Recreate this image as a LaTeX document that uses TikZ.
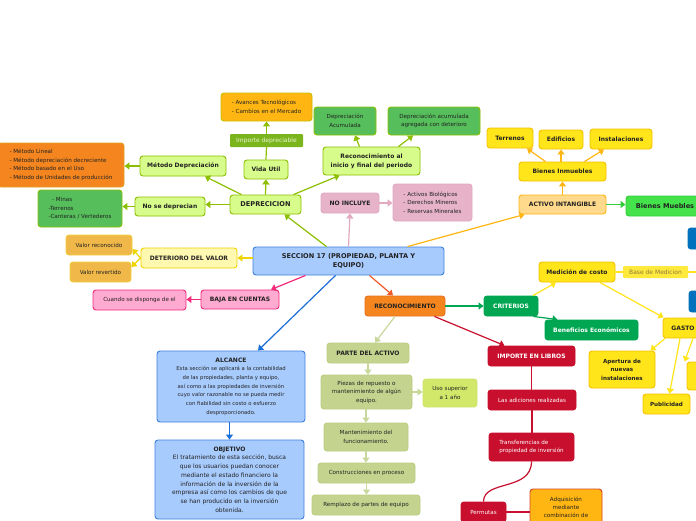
\documentclass[tikz,border=0pt]{standalone}
\usepackage{fontspec}
\setmainfont{DejaVu Sans}
\usetikzlibrary{arrows.meta}
\definecolor{secF}{HTML}{A8CBFD}\definecolor{secD}{HTML}{3D7FE0}
\definecolor{limF}{HTML}{D8FC8C}\definecolor{limD}{HTML}{8CBF00}
\definecolor{impF}{HTML}{7AB51D}\definecolor{impT}{HTML}{EAF6D2}
\definecolor{orY}{HTML}{FFB612}\definecolor{orD}{HTML}{C4C000}
\definecolor{orM}{HTML}{F5861F}\definecolor{orMD}{HTML}{E0A020}
\definecolor{grM}{HTML}{56BE5B}
\definecolor{pkF}{HTML}{E6B3C8}\definecolor{pkD}{HTML}{E2A9C1}
\definecolor{aiF}{HTML}{FFD98C}
\definecolor{yeF}{HTML}{FFE51A}\definecolor{yeD}{HTML}{F5C000}
\definecolor{bmF}{HTML}{44E34B}\definecolor{bmD}{HTML}{33CC3A}
\definecolor{deF}{HTML}{FFF8B0}\definecolor{deD}{HTML}{EED500}
\definecolor{vaF}{HTML}{F0B849}\definecolor{vaD}{HTML}{F2CF40}
\definecolor{bjF}{HTML}{FFAAD0}\definecolor{bjD}{HTML}{F22A7A}
\definecolor{rcF}{HTML}{F5861F}\definecolor{rcD}{HTML}{E8701A}\definecolor{rcL}{HTML}{F05A28}
\definecolor{crF}{HTML}{00A651}
\definecolor{ilF}{HTML}{C8102E}
\definecolor{paF}{HTML}{C4D38E}\definecolor{paD}{HTML}{BCCE82}\definecolor{paL}{HTML}{C8D89A}
\definecolor{usF}{HTML}{D2E86A}
\definecolor{blF}{HTML}{0071BC}
\definecolor{alL}{HTML}{1A6FD8}
\definecolor{bsT}{HTML}{8A7A40}
\definecolor{txt}{HTML}{222222}
\newcommand\fA{\fontsize{6.6}{8.2}\selectfont\bfseries}
\newcommand\fB{\fontsize{6}{9}\selectfont\bfseries}
\newcommand\fS{\fontsize{5.6}{8.5}\selectfont}
\newcommand\fM{\fontsize{6}{8.7}\selectfont}
\begin{document}
\begin{tikzpicture}[x=1pt,y=-1pt,
  bx/.style={rounded corners=3pt, line width=0.9pt, inner sep=1pt, align=center, text=txt},
  ar/.style={line width=1.2pt, -{Triangle[width=7pt,length=5pt]}},
  ln/.style={line width=1.2pt}]
\clip (0,0) rectangle (696,520);
\fill[white] (0,0) rectangle (696,520);
% central
\node[bx, fill=secF, draw=secD, minimum width=191pt, minimum height=28pt, font=\fA] (sec) at (348.5,261) {SECCION 17 (PROPIEDAD, PLANTA Y\\EQUIPO)};
% depreciation branch
\node[bx, fill=limF, draw=limD, minimum width=71pt, minimum height=19pt, font=\fA] (dep) at (265.5,204.5) {DEPRECICION};
\node[bx, fill=limF, draw=limD, minimum width=44pt, minimum height=19pt, font=\fB] (vida) at (266,169.5) {Vida Util};
\node[rounded corners=1pt, fill=impF, inner sep=1pt, minimum width=73pt, minimum height=13pt, text=impT, font=\fM] (imp) at (266.5,140.5) {Importe depreciable};
\node[bx, fill=orY, draw=orD, minimum width=91pt, minimum height=28pt, font=\fS, align=left] (av) at (266.5,107) {- Avances Tecnológicos\\- Cambios en el Mercado};
\node[bx, fill=limF, draw=limD, minimum width=86pt, minimum height=20pt, font=\fB] (met) at (183,166) {Método Depreciación};
\node[bx, fill=orM, draw=orMD, minimum width=126pt, minimum height=44pt, font=\fS, align=left] (meth) at (61,165) {- Método Lineal\\- Método depreciación decreciente\\- Método basado en el Uso\\- Método de Unidades de producción};
\node[bx, fill=limF, draw=limD, minimum width=70pt, minimum height=19pt, font=\fB] (nose) at (170,206.5) {No se deprecian};
\node[bx, fill=grM, draw=limD, minimum width=84pt, minimum height=37pt, font=\fS, align=left] (minas) at (80,208.5) {\ \ - Minas\\-Terrenos\\-Canteras / Vertederos};
\node[bx, fill=limF, draw=limD, minimum width=97pt, minimum height=28pt, font=\fB] (reca) at (371.5,161) {Reconocimiento al\\inicio y final del periodo};
\node[bx, fill=grM, draw=limD, minimum width=62pt, minimum height=28pt, font=\fS] (da) at (345,121) {Depreciación\\Acumulada};
\node[bx, fill=grM, draw=limD, minimum width=92pt, minimum height=28pt, font=\fS] (daa) at (434,121) {Depreciación acumulada\\agregada con deterioro};
% no incluye
\node[bx, fill=pkF, draw=pkD, minimum width=58pt, minimum height=20pt, font=\fB] (noinc) at (350,203) {NO INCLUYE};
\node[bx, fill=pkF, draw=pkD, minimum width=79pt, minimum height=37pt, font=\fS, align=left] (act) at (432.5,202.5) {- Activos Biológicos\\- Derechos Mineros\\- Reservas Minerales};
% activo intangible
\node[bx, fill=aiF, draw=orY, minimum width=87pt, minimum height=19pt, font=\fB] (ai) at (562.5,204.5) {ACTIVO INTANGIBLE};
\node[bx, fill=bmF, draw=bmD, minimum width=78pt, minimum height=20pt, font=\fA] (bm) at (665,206) {Bienes Muebles};
\node[bx, fill=yeF, draw=yeD, minimum width=87pt, minimum height=19pt, font=\fB] (bi) at (562.5,171.5) {Bienes Inmuebles};
\node[bx, fill=yeF, draw=yeD, minimum width=46pt, minimum height=20pt, font=\fB] (terr) at (510,138) {Terrenos};
\node[bx, fill=yeF, draw=yeD, minimum width=44pt, minimum height=19pt, font=\fB] (edif) at (561,139.5) {Edificios};
\node[bx, fill=yeF, draw=yeD, minimum width=62pt, minimum height=20pt, font=\fB] (inst) at (621,139) {Instalaciones};
% deterioro
\node[bx, fill=deF, draw=deD, minimum width=96pt, minimum height=20pt, font=\fB] (det) at (189,258) {DETERIORO DEL VALOR};
\node[bx, fill=vaF, draw=vaD, minimum width=66pt, minimum height=20pt, font=\fS] (vrec) at (99,245) {Valor reconocido};
\node[bx, fill=vaF, draw=vaD, minimum width=61pt, minimum height=20pt, font=\fS] (vrev) at (100.5,272) {Valor revertido};
% baja
\node[bx, fill=bjF, draw=bjD, minimum width=78pt, minimum height=19pt, font=\fB] (baja) at (240,299.5) {BAJA EN CUENTAS};
\node[bx, fill=bjF, draw=bjD, minimum width=93pt, minimum height=20pt, font=\fS] (cuando) at (139.5,300) {Cuando se disponga de el};
% reconocimiento
\node[bx, fill=rcF, draw=rcD, minimum width=80pt, minimum height=20pt, font=\fB] (recon) at (405,306) {RECONOCIMIENTO};
\node[bx, fill=crF, draw=crF, minimum width=54pt, minimum height=20pt, font=\fB, text=white] (crit) at (511,306) {CRITERIOS};
\node[bx, fill=crF, draw=crF, minimum width=93pt, minimum height=20pt, font=\fB, text=white] (ben) at (591.5,330) {Beneficios Económicos};
\node[bx, fill=yeF, draw=yeD, minimum width=76pt, minimum height=20pt, font=\fB] (med) at (577,272) {Medición de costo};
\node[rounded corners=1pt, fill=yeF!85!white, inner sep=1pt, minimum width=65pt, minimum height=12pt, text=bsT, font=\fM] (base) at (655.5,272) {Base de Medicion};
\coordinate (baseend) at (700,272);
\node[bx, fill=blF, draw=blF, minimum width=32pt, minimum height=21pt] (bl1) at (704,238.5) {};
\node[bx, fill=blF, draw=blF, minimum width=32pt, minimum height=21pt] (bl2) at (705,301.5) {};
\node[bx, fill=yeF, draw=yeD, minimum width=40pt, minimum height=20pt, font=\fB] (gasto) at (683,328) {GASTO};
\node[bx, fill=yeF, draw=yeD, minimum width=66pt, minimum height=37pt, font=\fS\bfseries] (aper) at (622,369.5) {Apertura de\\nuevas\\instalaciones};
\node[bx, fill=yeF, draw=yeD, minimum width=47pt, minimum height=20pt, font=\fS\bfseries] (pub) at (666.5,404) {Publicidad};
\node[bx, fill=yeF, draw=yeD, minimum width=33pt, minimum height=28pt] (g3) at (703.5,376) {};
% importe en libros
\node[bx, fill=ilF, draw=ilF, minimum width=87pt, minimum height=20pt, font=\fB, text=white] (impl) at (531.5,356) {IMPORTE EN LIBROS};
\node[bx, fill=ilF, draw=ilF, minimum width=88pt, minimum height=20pt, font=\fS, text=white] (adic) at (532,400) {Las adiciones realizadas};
\node[bx, fill=ilF, draw=ilF, minimum width=85pt, minimum height=28pt, font=\fS, text=white, align=left] (trans) at (531.5,447) {Transferencias de\\propiedad de inversión};
\node[bx, fill=ilF, draw=ilF, minimum width=45pt, minimum height=20pt, font=\fS, text=white] (perm) at (483.5,512) {Permutas};
\node[bx, fill=orY, draw=ilF!70!orY, minimum width=72pt, minimum height=36pt, font=\fontsize{5.6}{8}\selectfont] (adq) at (566,507) {Adquisición\\mediante\\combinación de};
% parte del activo
\node[bx, fill=paF, draw=paD, minimum width=82pt, minimum height=20pt, font=\fB] (parte) at (368,353) {PARTE DEL ACTIVO};
\node[bx, fill=paF, draw=paD, minimum width=91pt, minimum height=34pt, font=\fS] (piez) at (366.5,392) {Piezas de repuesto o\\mantenimiento de algún\\equipo.};
\node[bx, fill=usF, draw=usF!85!paD, minimum width=54pt, minimum height=28pt, font=\fS] (uso) at (450,393) {Uso superior\\a 1 año};
\node[bx, fill=paF, draw=paD, minimum width=84pt, minimum height=28pt, font=\fS] (mant) at (366,437) {Mantenimiento del\\funcionamiento.};
\node[bx, fill=paF, draw=paD, minimum width=97pt, minimum height=20pt, font=\fS] (cons) at (366.5,473) {Construcciones en proceso};
\node[bx, fill=paF, draw=paD, minimum width=108pt, minimum height=20pt, font=\fS] (remp) at (366,505) {Remplazo de partes de equipo};
% alcance / objetivo
\node[bx, fill=secF, draw=secD, minimum width=148pt, minimum height=71pt, font=\fontsize{5.3}{8.7}\selectfont] (alc) at (231,386.5) {{\fontsize{6}{8.7}\selectfont\bfseries ALCANCE}\\Esta sección se aplicará a la contabilidad\\de las propiedades, planta y equipo,\\así como a las propiedades de inversión\\cuyo valor razonable no se pueda medir\\con fiabilidad sin costo o esfuerzo\\desproporcionado.};
\node[bx, fill=secF, draw=secD, minimum width=149pt, minimum height=79pt, font=\fontsize{6}{8.7}\selectfont] (obj) at (229.5,479.5) {{\bfseries OBJETIVO}\\El tratamiento de esta sección, busca\\que los usuarios puedan conocer\\mediante el estado financiero la\\información de la inversión de la\\empresa así como los cambios de que\\se han producido en la inversión\\obtenida.};
% ---------- connectors
\draw[ar, limD] ([xshift=-22pt]sec.north) -- ([xshift=19pt]dep.south);
\draw[ar, limD] (dep.north) -- (vida.south);
\draw[ln, limD] (vida.north) -- (imp.south);
\draw[ar, limD] (imp.north) -- (av.south);
\draw[ar, limD] ([xshift=-24pt]dep.north) -- ([xshift=22pt]met.south);
\draw[ar, limD] (met.west) -- (meth.east |- met.west);
\draw[ar, limD] (dep.west) -- (nose.east |- dep.west);
\draw[ar, limD] (nose.west) -- (minas.east |- nose.west);
\draw[ar, limD] ([xshift=28pt]dep.north) -- ([xshift=-32pt]reca.south);
\draw[ar, limD] ([xshift=-12pt]reca.north) -- ([xshift=10pt]da.south);
\draw[ar, limD] ([xshift=27pt]reca.north) -- ([xshift=-21pt]daa.south);
\draw[ar, pkD] (sec.north) -- (noinc.south);
\draw[ar, pkD] (noinc.east) -- (act.west |- noinc.east);
\draw[ar, orY] ([xshift=59pt]sec.north) -- ([xshift=-38pt]ai.south);
\draw[ar, orY] (ai.north) -- (bi.south);
\draw[ar, orY] ([xshift=-17pt]bi.north) -- ([xshift=17pt]terr.south);
\draw[ar, orY] (bi.north -| edif.south) -- (edif.south);
\draw[ar, orY] ([xshift=22pt]bi.north) -- ([xshift=-17pt]inst.south);
\draw[ar, bmD] (ai.east) -- (bm.west |- ai.east);
\draw[ar, deD] (sec.west |- det.east) -- (det.east);
\draw[ar, deD] (det.west) -- ([yshift=-4pt]vrec.east);
\draw[ar, deD] (det.west) -- ([yshift=5pt]vrev.east);
\draw[ar, bjD] ([xshift=-43pt]sec.south) -- ([xshift=31pt]baja.north);
\draw[ar, bjD] (baja.west) -- (cuando.east |- baja.west);
\draw[ar, alL] ([xshift=-13pt]sec.south) -- ([xshift=27pt]alc.north);
\draw[ar, alL] (alc.south -| obj.north) -- (obj.north);
\draw[ar, rcL] ([xshift=21pt]sec.south) -- ([xshift=-12pt]recon.north);
\draw[ar, crF] (recon.east) -- (crit.west |- recon.east);
\draw[ar, ilF] ([xshift=-11pt]recon.south east) -- ([xshift=-27pt]impl.north);
\draw[ar, paL] ([xshift=-10pt]recon.south) -- ([xshift=7pt]parte.north);
\draw[ar, paL] (parte.south) -- (parte.south |- piez.north);
\draw[ar, paL] (piez.east) -- (uso.west |- piez.east);
\draw[ar, paL] (piez.south -| mant.north) -- (mant.north);
\draw[ar, paL] (mant.south) -- (mant.south |- cons.north);
\draw[ar, paL] (cons.south) -- (cons.south |- remp.north);
\draw[ar, yeF] ([xshift=22pt]crit.north) -- ([xshift=-21pt]med.south);
\draw[ar, crF] ([xshift=-5pt]crit.south east) -- ([xshift=-34pt]ben.north);
\draw[ln, yeF] (med.east) -- (base.west);
\draw[ln, yeF] (base.east) -- (baseend);
\draw[ar, yeF] ([xshift=23pt]med.south) -- ([xshift=1pt]gasto.north west);
\draw[ar, yeF] ([xshift=-18pt]gasto.south) -- ([xshift=-5pt]aper.north east);
\draw[ar, yeF] ([xshift=-3pt]gasto.south) -- ([xshift=3pt]pub.north);
\draw[ar, yeF] ([xshift=10pt]gasto.south) -- ([xshift=-2pt]g3.north west);
\draw[ln, ilF] (impl.south) -- (impl.south |- adic.north);
\draw[ln, ilF] (adic.south) -- (adic.south |- trans.north);
\draw[ln, ilF] (trans.south) .. controls +(0,30) and +(0,-22) .. (perm.north);
\draw[ln, ilF] (perm.east) -- (adq.west |- perm.east);
\end{tikzpicture}
\end{document}
